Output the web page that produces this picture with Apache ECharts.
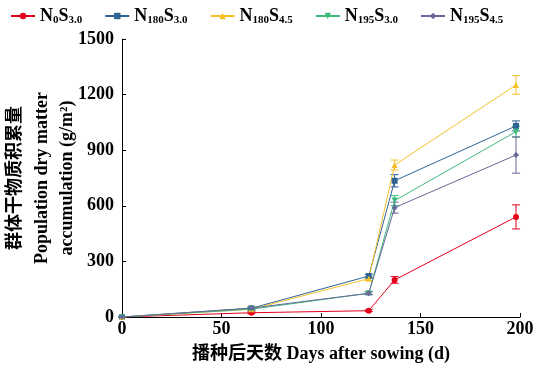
<!DOCTYPE html>
<html><head><meta charset="utf-8">
<script src="https://cdn.jsdelivr.net/npm/echarts@6/dist/echarts.min.js"></script>
<style>html,body{margin:0;padding:0;background:#fff}#c{width:540px;height:370px}</style>
</head><body><div id="c"></div>
<script>
const days = [0, 65, 124, 137, 198];
const seriesNames = ['N0S3.0', 'N180S3.0', 'N180S4.5', 'N195S3.0', 'N195S4.5'];
const n0s30 = [0, 23, 34, 200, 540];
const n0s30Err = [0, 5, 5, 18, 65];
const n180s30 = [0, 47, 221, 735, 1031];
const n180s30Err = [0, 5, 10, 33, 27];
const n180s45 = [0, 42, 207, 820, 1252];
const n180s45Err = [0, 5, 10, 27, 50];
const n195s30 = [0, 42, 128, 628, 1000];
const n195s30Err = [0, 5, 8, 27, 30];
const n195s45 = [0, 48, 128, 590, 874];
const n195s45Err = [0, 5, 8, 30, 98];
const yTicks = [0, 300, 600, 900, 1200, 1500];
const xTicks = [0, 50, 100, 150, 200];
const yNameLines = ['群体干物质积累量', 'Population dry matter', 'accumulation (g/m²)'];

const values = [n0s30, n180s30, n180s45, n195s30, n195s45];
const errs = [n0s30Err, n180s30Err, n180s45Err, n195s30Err, n195s45Err];
const colors = ['#e3001b', '#2f6394', '#f4c028', '#3dba7a', '#67679a'];
const symbols = ['circle', 'rect', 'triangle', 'path://M0,0 L10,0 L5,9 Z', 'diamond'];
const subs = {
  'N0S3.0': ['0', '3.0'], 'N180S3.0': ['180', '3.0'], 'N180S4.5': ['180', '4.5'],
  'N195S3.0': ['195', '3.0'], 'N195S4.5': ['195', '4.5']
};
const serif = 'Liberation Serif, Times New Roman, serif';

const series = [];
values.forEach((vals, i) => {
  series.push({
    name: seriesNames[i], type: 'line',
    data: days.map((d, j) => [d, vals[j]]),
    symbol: symbols[i], symbolSize: 6,
    lineStyle: { width: 1, color: colors[i] },
    itemStyle: { color: colors[i] },
    z: 3
  });
  series.push({
    name: seriesNames[i], type: 'custom',
    data: days.map((d, j) => [d, vals[j] - errs[i][j], vals[j] + errs[i][j]]),
    renderItem: function (params, api) {
      const lo = api.coord([api.value(0), api.value(1)]);
      const hi = api.coord([api.value(0), api.value(2)]);
      const w = 4;
      const st = { stroke: colors[i], lineWidth: 1 };
      return { type: 'group', children: [
        { type: 'line', shape: { x1: lo[0], y1: lo[1], x2: hi[0], y2: hi[1] }, style: st },
        { type: 'line', shape: { x1: lo[0] - w, y1: lo[1], x2: lo[0] + w, y2: lo[1] }, style: st },
        { type: 'line', shape: { x1: hi[0] - w, y1: hi[1], x2: hi[0] + w, y2: hi[1] }, style: st }
      ]};
    },
    z: 2
  });
});

const nameX = [15, 42, 67];
const graphic = yNameLines.map((t, k) => ({
  type: 'text', x: nameX[k], y: 178, rotation: Math.PI / 2,
  style: { text: t, fontFamily: serif + ', Noto Sans CJK SC', fontWeight: 'bold', fontSize: 18,
    fill: '#000', align: 'center', verticalAlign: 'middle' }
}));

const chart = echarts.init(document.getElementById('c'));
chart.setOption({
  animation: false,
  backgroundColor: '#fff',
  graphic: graphic,
  legend: {
    data: seriesNames, left: 5, top: 2, itemWidth: 24, itemHeight: 8, itemGap: 22,
    formatter: n => '{b|N}{s|' + subs[n][0] + '}{b|S}{s|' + subs[n][1] + '}',
    textStyle: {
      rich: {
        b: { fontFamily: serif, fontWeight: 'bold', fontSize: 18, color: '#000' },
        s: { fontFamily: serif, fontWeight: 'bold', fontSize: 11, color: '#000', verticalAlign: 'bottom', padding: [8, 0, 0, 0] }
      }
    }
  },
  grid: { left: 122, right: 20, top: 39, bottom: 53, outerBoundsMode: 'none', containLabel: false },
  xAxis: {
    type: 'value', min: xTicks[0], max: xTicks[xTicks.length - 1], interval: 50,
    name: '播种后天数 Days after sowing (d)', nameLocation: 'middle', nameGap: 28,
    nameTextStyle: { fontFamily: serif + ', Noto Sans CJK SC', fontWeight: 'bold', fontSize: 18, color: '#000' },
    axisLine: { lineStyle: { color: '#000', width: 1 } },
    axisTick: { inside: true, length: 4, lineStyle: { color: '#000' } },
    axisLabel: { fontFamily: serif, fontWeight: 'bold', fontSize: 18, color: '#000', margin: 3 },
    splitLine: { show: false }
  },
  yAxis: {
    type: 'value', min: yTicks[0], max: yTicks[yTicks.length - 1], interval: 300,
    axisLine: { show: true, lineStyle: { color: '#000', width: 1 } },
    axisTick: { show: true, inside: true, length: 4, lineStyle: { color: '#000' } },
    axisLabel: { fontFamily: serif, fontWeight: 'bold', fontSize: 18, color: '#000', margin: 8, formatter: v => String(v) },
    splitLine: { show: false }
  },
  series: series
});
</script></body></html>
